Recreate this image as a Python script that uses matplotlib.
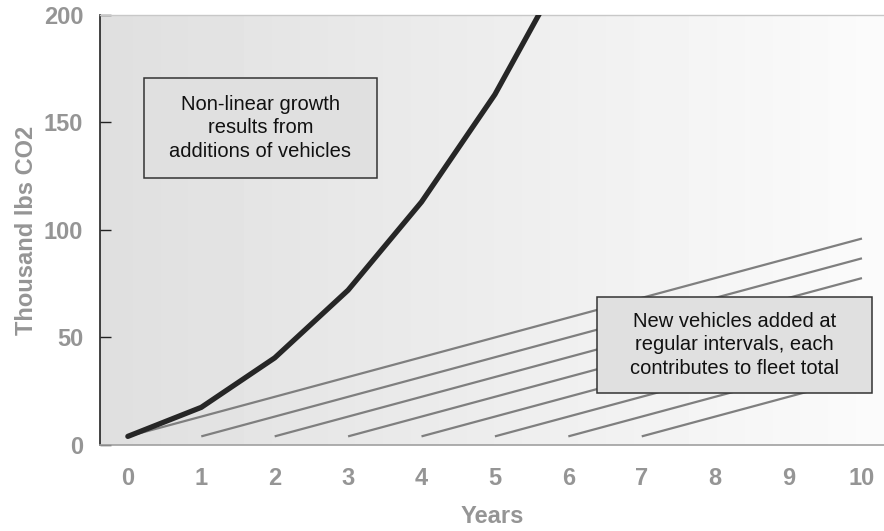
import numpy as np
import matplotlib
matplotlib.use("Agg")
import matplotlib.pyplot as plt
from matplotlib.patches import Rectangle

# Fleet total emissions (thousand lbs CO2) by year
years = [0, 1, 2, 3, 4, 5, 6]
fleet_total = [4, 17.5, 40.5, 72, 113, 163, 225]

# Each vehicle added at a given year, contributing linearly until year 10
vehicle_start_years = [0, 1, 2, 3, 4, 5, 6, 7]
vehicle_start_value = 4
vehicle_end_year = 10
vehicle_rate = 9.2  # thousand lbs per year

x_ticks = list(range(0, 11))
y_ticks = [0, 50, 100, 150, 200]

plt.rcParams['font.family'] = ['Liberation Sans', 'DejaVu Sans']

fig = plt.figure(figsize=(8.84, 5.31), dpi=100)
ax = fig.add_axes([0.113, 0.162, 0.887, 0.81])

xlim = (-0.381, 10.3)
ylim = (0, 200)

# horizontal gray-to-white gradient background
grad = np.linspace(223, 251, 256)[None, :] / 255.0
grad = np.repeat(grad, 2, axis=0)
ax.imshow(grad, cmap='gray', vmin=0, vmax=1, aspect='auto',
          extent=[xlim[0], xlim[1], ylim[0], ylim[1]], zorder=0,
          interpolation='bilinear')

for s in vehicle_start_years:
    xs = [s, vehicle_end_year]
    ys = [vehicle_start_value, vehicle_start_value + vehicle_rate * (vehicle_end_year - s)]
    ax.plot(xs, ys, color='#7f7f7f', lw=1.6, solid_capstyle='butt', zorder=2)

ax.plot(years, fleet_total, color='#262626', lw=3.8, solid_capstyle='round',
        solid_joinstyle='miter', zorder=3)

ax.set_xlim(*xlim)
ax.set_ylim(*ylim)

label_gray = '#959595'
ax.set_xticks(x_ticks)
ax.set_yticks(y_ticks)
ax.tick_params(axis='x', length=0, pad=16, labelsize=17, labelcolor=label_gray)
ax.tick_params(axis='y', direction='in', length=8, width=1, color='#222222',
               pad=12, labelsize=17, labelcolor=label_gray)
for lbl in ax.get_xticklabels() + ax.get_yticklabels():
    lbl.set_fontweight('bold')

ax.set_xlabel('Years', fontsize=17, fontweight='bold', color=label_gray, labelpad=11)
ax.set_ylabel('Thousand lbs CO2', fontsize=17, fontweight='bold', color=label_gray, labelpad=4)

ax.spines['left'].set_color('#222222')
ax.spines['left'].set_linewidth(1.2)
ax.spines['bottom'].set_color('#a0a0a0')
ax.spines['bottom'].set_linewidth(1.2)
ax.spines['top'].set_color('#c8c8c8')
ax.spines['top'].set_linewidth(1.0)
ax.spines['right'].set_visible(False)


def callout(x0, y0, x1, y1, text):
    ax.add_patch(Rectangle((x0, y0), x1 - x0, y1 - y0, transform=ax.transAxes,
                           facecolor='#e0e0e0', edgecolor='#333333', lw=1.1,
                           zorder=5))
    ax.text((x0 + x1) / 2, (y0 + y1) / 2, text, transform=ax.transAxes,
            ha='center', va='center', fontsize=14.5, color='#111111',
            linespacing=1.28, zorder=6)


callout(0.0561, 0.621, 0.3533, 0.8535,
        'Non-linear growth\nresults from\nadditions of vehicles')
callout(0.634, 0.121, 0.9847, 0.344,
        'New vehicles added at\nregular intervals, each\ncontributes to fleet total')

fig.savefig('out.png', dpi=100)
